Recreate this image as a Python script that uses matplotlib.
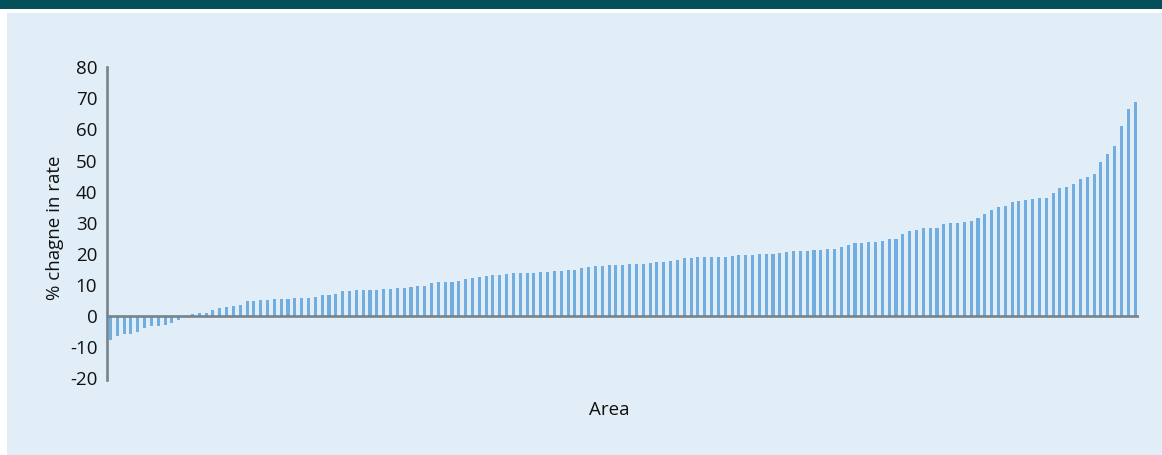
import matplotlib
matplotlib.use("Agg")
import matplotlib.pyplot as plt
import numpy as np
from matplotlib.patches import Rectangle

# ---- data ----
pct_change = [
    -7.7, -6.4, -5.8, -5.8, -5.1, -3.9, -3.2, -3.2, -2.9, -2.3,
    -1.3, 0.0, 0.6, 1.0, 1.0, 1.9, 2.6, 2.9, 3.2, 3.5,
    4.8, 4.8, 5.1, 5.1, 5.5, 5.5, 5.5, 5.8, 5.8, 5.8,
    6.1, 6.8, 6.8, 7.1, 8.0, 8.0, 8.4, 8.4, 8.4, 8.4,
    8.7, 8.7, 9.0, 9.0, 9.3, 9.6, 9.6, 10.6, 10.9, 10.9,
    10.9, 11.3, 11.9, 12.2, 12.5, 12.9, 13.2, 13.2, 13.5, 13.8,
    13.8, 13.8, 13.8, 14.1, 14.1, 14.5, 14.5, 14.8, 14.8, 15.4,
    15.8, 16.1, 16.1, 16.4, 16.4, 16.4, 16.7, 16.7, 16.7, 17.0,
    17.4, 17.4, 17.7, 18.0, 18.6, 18.6, 19.0, 19.0, 19.0, 19.0,
    19.0, 19.3, 19.6, 19.6, 19.6, 19.9, 19.9, 19.9, 20.3, 20.6,
    20.9, 20.9, 20.9, 21.2, 21.2, 21.5, 21.5, 22.2, 22.8, 23.5,
    23.5, 23.8, 23.8, 24.1, 24.8, 24.8, 26.4, 27.3, 27.7, 28.3,
    28.3, 28.3, 29.6, 29.9, 29.9, 30.2, 30.5, 31.5, 32.8, 34.1,
    35.0, 35.4, 36.7, 37.0, 37.3, 37.6, 37.9, 37.9, 39.5, 41.2,
    41.5, 42.4, 44.1, 44.7, 45.7, 49.5, 52.1, 54.7, 61.1, 66.6,
    68.8,
]
y_ticks = [-20, -10, 0, 10, 20, 30, 40, 50, 60, 70, 80]
y_label = "% chagne in rate"
x_label = "Area"

# ---- style ----
W, H = 1162, 455
header_col = "#03505A"
panel_col = "#E1EEF8"
bar_col = "#72ADDF"
axis_col = "#76838A"
text_col = "#111111"
plt.rcParams['font.family'] = ['Open Sans', 'DejaVu Sans']

fig = plt.figure(figsize=(W / 100, H / 100), dpi=100, facecolor="white")

def px_rect(x0, y0, x1, y1, color):
    fig.patches.append(Rectangle((x0 / W, 1 - y1 / H), (x1 - x0) / W, (y1 - y0) / H,
                                 transform=fig.transFigure, facecolor=color,
                                 edgecolor="none", zorder=-10))

px_rect(0, 0, W, 9, header_col)
px_rect(7, 13, W, H, panel_col)

left_px, right_px = 107, 1138.5
top_px, bot_px = 67.2, 378.2
ax = fig.add_axes([left_px / W, 1 - bot_px / H, (right_px - left_px) / W, (bot_px - top_px) / H])
ax.set_facecolor("none")
ax.set_zorder(5)

x = np.arange(len(pct_change))
ax.bar(x, pct_change, width=0.45, color=bar_col, zorder=2)
ax.axhline(0, color=axis_col, lw=1.9, zorder=3)

ax.set_xlim(-0.5, len(pct_change) - 0.5)
ax.set_ylim(-20, 80)
ax.set_yticks(y_ticks)
ax.set_yticklabels([str(t) for t in y_ticks])
ax.set_xticks([])
ax.tick_params(axis="y", length=0, pad=7, labelsize=13.5, colors=text_col)

for s in ["top", "right", "bottom"]:
    ax.spines[s].set_visible(False)
ax.spines["left"].set_color(axis_col)
ax.spines["left"].set_linewidth(1.9)
ax.spines["left"].set_bounds(-20.5, 80)

ax.set_ylabel(y_label, fontsize=13.5, color=text_col)
ax.yaxis.set_label_coords((64 - left_px) / (right_px - left_px), (bot_px - 228) / (bot_px - top_px))

fig.text(609 / W, 1 - 410 / H, x_label, ha="center", va="center", fontsize=13.5, color=text_col)

fig.savefig("out.png", dpi=100, facecolor="white")
